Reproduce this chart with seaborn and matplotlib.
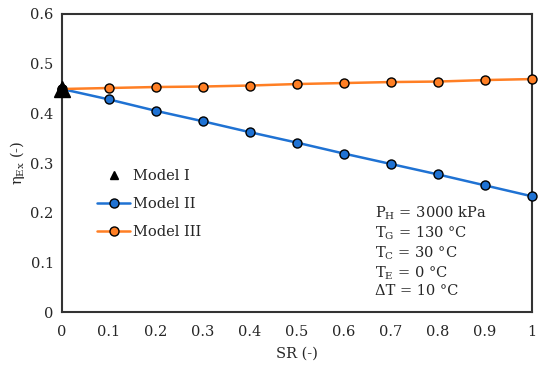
import matplotlib
matplotlib.use("Agg")
import matplotlib.pyplot as plt
import seaborn as sns
import pandas as pd
from matplotlib.lines import Line2D

sr = [0, 0.1, 0.2, 0.3, 0.4, 0.5, 0.6, 0.7, 0.8, 0.9, 1.0]
model2 = [0.449, 0.428, 0.405, 0.384, 0.362, 0.341, 0.319, 0.298, 0.277, 0.255, 0.233]
model3 = [0.449, 0.451, 0.453, 0.454, 0.456, 0.459, 0.461, 0.463, 0.464, 0.467, 0.469]
model1_x = [0]
model1_y = [0.449]
xticks = [0, 0.1, 0.2, 0.3, 0.4, 0.5, 0.6, 0.7, 0.8, 0.9, 1]
xticklabels = ["0", "0.1", "0.2", "0.3", "0.4", "0.5", "0.6", "0.7", "0.8", "0.9", "1"]
yticks = [0, 0.1, 0.2, 0.3, 0.4, 0.5, 0.6]
yticklabels = ["0", "0.1", "0.2", "0.3", "0.4", "0.5", "0.6"]

sns.set_style("white")
plt.rcParams['font.family'] = ['DejaVu Serif']
plt.rcParams['mathtext.fontset'] = 'dejavuserif'

fig = plt.figure(figsize=(5.5, 3.68), dpi=100)
ax = fig.add_axes([0.1127, 0.152, 0.8546, 0.810])

df2 = pd.DataFrame({"SR": sr, "eta": model2})
df3 = pd.DataFrame({"SR": sr, "eta": model3})

blue = "#1f72d3"
orange = "#ff7f24"
fs = 10.5
sns.lineplot(data=df2, x="SR", y="eta", ax=ax, color=blue, lw=1.8, marker="o",
             markersize=6.5, markeredgecolor="black", markeredgewidth=1.0,
             label="Model II", zorder=3, clip_on=False)
sns.lineplot(data=df3, x="SR", y="eta", ax=ax, color=orange, lw=1.8, marker="o",
             markersize=6.5, markeredgecolor="black", markeredgewidth=1.0,
             label="Model III", zorder=4, clip_on=False)
ax.plot(model1_x, model1_y, ls="none", marker="^", color="black", markersize=11,
        zorder=5, clip_on=False)

h1 = Line2D([], [], ls="none", marker="^", color="black", markersize=6)
h2, h3 = ax.get_legend_handles_labels()[0]
ax.legend([h1, h2, h3], ["Model I", "Model II", "Model III"], frameon=False,
          loc="upper left", bbox_to_anchor=(0.074, 0.48), borderaxespad=0,
          borderpad=0, fontsize=fs, handlelength=2.3, handletextpad=0.2,
          labelspacing=0.95)

ax.set_xlim(0, 1)
ax.set_ylim(0, 0.6)
ax.set_xticks(xticks)
ax.set_xticklabels(xticklabels)
ax.set_yticks(yticks)
ax.set_yticklabels(yticklabels)
ax.tick_params(axis="x", direction="in", length=3, width=1, labelsize=fs,
               color="#333333", pad=9)
ax.tick_params(axis="y", direction="in", length=3, width=1, labelsize=fs,
               color="#333333", pad=6)
for s in ax.spines.values():
    s.set_color("#333333")
    s.set_linewidth(1.5)
ax.set_xlabel("SR (-)", fontsize=fs, labelpad=6)
ax.set_ylabel(r"$\mathregular{\eta_{Ex}}$ (-)", fontsize=fs, labelpad=2)

txt = ("P$_\\mathregular{H}$ = 3000 kPa\n"
       "T$_\\mathregular{G}$ = 130 °C\n"
       "T$_\\mathregular{C}$ = 30 °C\n"
       "T$_\\mathregular{E}$ = 0 °C\n"
       "ΔT = 10 °C")
ax.text(0.666, 0.36, txt, transform=ax.transAxes, fontsize=fs, va="top",
        ha="left", linespacing=1.2)

fig.savefig("out.png", dpi=100)
